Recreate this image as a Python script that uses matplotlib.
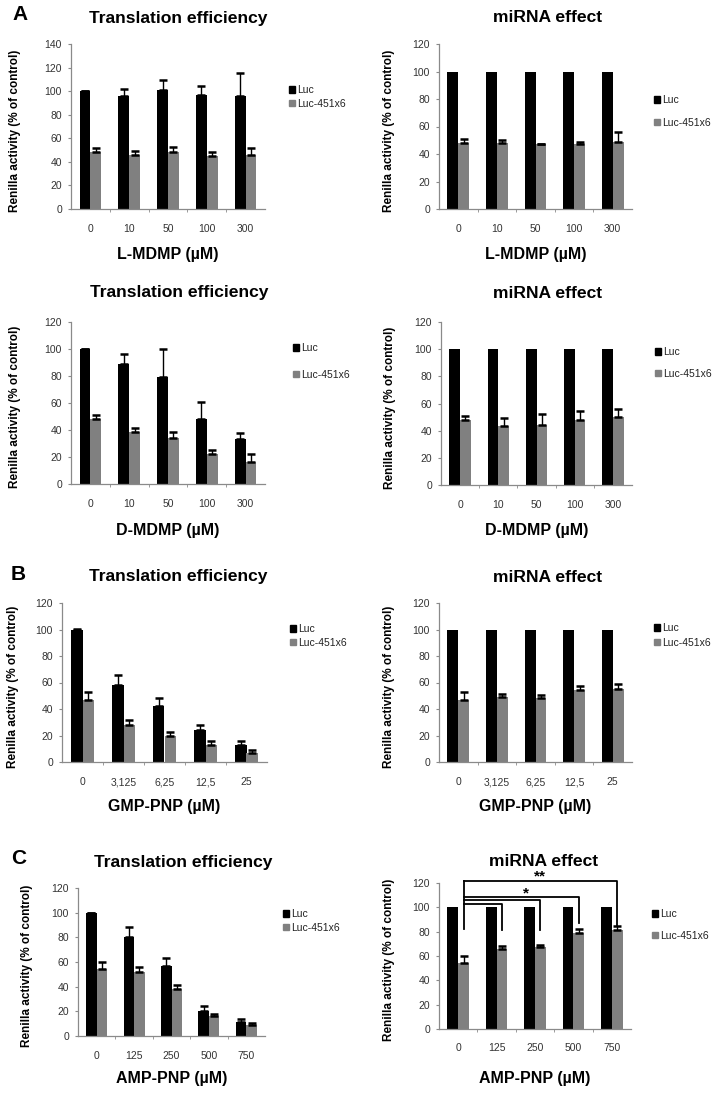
import numpy as np
import matplotlib
matplotlib.use('Agg')
import matplotlib.pyplot as plt
from matplotlib.patches import Patch

plt.rcParams['font.family'] = ['Liberation Sans', 'DejaVu Sans']

# x categories
conc_mdmp = ['0', '10', '50', '100', '300']
conc_gmp = ['0', '3,125', '6,25', '12,5', '25']
conc_amp = ['0', '125', '250', '500', '750']

# L-MDMP
te_lmdmp_luc = [100, 96, 101, 97, 96]
te_lmdmp_luc_err = [0.5, 6, 8.5, 7, 19]
te_lmdmp_mir = [48, 46, 48, 45, 46]
te_lmdmp_mir_err = [3.5, 3.5, 4.5, 3, 6]
mi_lmdmp_luc = [100, 100, 100, 100, 100]
mi_lmdmp_mir = [48, 48, 47, 47, 49]
mi_lmdmp_mir_err = [3, 2, 0.5, 2, 7]

# D-MDMP
te_dmdmp_luc = [100, 89, 79, 48.5, 33]
te_dmdmp_luc_err = [0, 7.5, 21, 12, 4.7]
te_dmdmp_mir = [48, 38.5, 34, 22, 16]
te_dmdmp_mir_err = [3, 2.7, 4.5, 3.2, 6]
mi_dmdmp_luc = [100, 100, 100, 100, 100]
mi_dmdmp_mir = [48, 43.5, 44.5, 47.5, 50]
mi_dmdmp_mir_err = [3, 6, 7.5, 7, 6]

# GMP-PNP
te_gmp_luc = [100, 58, 42, 24, 13]
te_gmp_luc_err = [0.5, 8, 6, 4, 3]
te_gmp_mir = [47, 28, 20, 13, 7]
te_gmp_mir_err = [6, 4, 3, 2.5, 2]
mi_gmp_luc = [100, 100, 100, 100, 100]
mi_gmp_mir = [47, 49, 48, 54, 55]
mi_gmp_mir_err = [6, 2, 2.5, 3.5, 3.5]

# AMP-PNP
te_amp_luc = [100, 80, 57, 20, 11]
te_amp_luc_err = [0, 8, 6, 4, 3]
te_amp_mir = [54, 52, 38, 16, 9]
te_amp_mir_err = [6, 4, 3, 2, 1.5]
mi_amp_luc = [100, 100, 100, 100, 100]
mi_amp_mir = [54, 66, 67, 79, 81]
mi_amp_mir_err = [6, 2, 2, 3, 4]

# significance brackets (AMP-PNP miRNA effect), from group 0 to groups 1..4
sig_targets = [1, 2, 3, 4]
sig_heights = [103, 105.8, 108.5, 122]
sig_drops = [81, 81, 87, 85]

W, H = 725, 1101
fig = plt.figure(figsize=(W / 100, H / 100), dpi=100)
AX_COL = '#8a8a8a'
BW = 0.28


def fx(px):
    return px / W


def fy(py):
    return 1 - py / H


def panel(rect, cats, luc, luc_err, mir, mir_err, ymax, title, title_xy,
          xlabel, xlabel_y, ylabel_x, leg_xy, leg_space, tick_pad=11):
    l, t, r, b = rect
    ax = fig.add_axes([fx(l), fy(b), fx(r - l), (b - t) / H])
    x = np.arange(len(cats))
    ax.bar(x - BW / 2, luc, BW, color='black', label='Luc', zorder=2)
    ax.bar(x + BW / 2, mir, BW, color='#808080', label='Luc-451x6', zorder=2)
    if luc_err is not None:
        ax.errorbar(x - BW / 2, luc, yerr=[np.zeros(len(x)), luc_err], fmt='none',
                    ecolor='black', elinewidth=1, capsize=2.7, capthick=1.8, zorder=3)
    ax.errorbar(x + BW / 2, mir, yerr=[np.zeros(len(x)), mir_err], fmt='none',
                ecolor='black', elinewidth=1, capsize=2.7, capthick=1.8, zorder=3)
    ax.set_xlim(-0.5, len(cats) - 0.5)
    ax.set_ylim(0, ymax)
    ax.set_yticks(np.arange(0, ymax + 1, 20))
    ax.set_xticks(x)
    ax.set_xticklabels(cats)
    ax.set_xticks(np.arange(0.5, len(cats) - 0.5, 1), minor=True)
    ax.tick_params(axis='x', which='major', length=0, pad=tick_pad, labelsize=7.5, labelcolor='#333333')
    ax.tick_params(axis='x', which='minor', length=2.5, color=AX_COL, direction='out')
    ax.tick_params(axis='y', length=2.5, color=AX_COL, pad=4, labelsize=7.5, labelcolor='#333333')
    for s in ['top', 'right']:
        ax.spines[s].set_visible(False)
    for s in ['left', 'bottom']:
        ax.spines[s].set_color(AX_COL)
        ax.spines[s].set_linewidth(0.9)
    fig.text(fx(title_xy[0]), fy(title_xy[1]), title, ha='center', va='center',
             fontsize=12.6, fontweight='bold')
    fig.text(fx((l + r) / 2), fy(xlabel_y), xlabel, ha='center', va='center',
             fontsize=11.5, fontweight='bold')
    fig.text(fx(ylabel_x), fy((t + b) / 2 + 4), 'Renilla activity (% of control)',
             ha='center', va='center', rotation=90, fontsize=8.5, fontweight='bold')
    handles = [Patch(color='black'), Patch(color='#808080')]
    ax.legend(handles, ['Luc', 'Luc-451x6'], loc='center left',
              bbox_to_anchor=(fx(leg_xy[0]), fy(leg_xy[1])), bbox_transform=fig.transFigure,
              frameon=False, fontsize=7.5, handlelength=0.6, handleheight=0.6,
              handletextpad=0.2, borderpad=0, borderaxespad=0, labelspacing=leg_space,
              labelcolor='#222222')
    return ax


panel((71, 44, 265, 209), conc_mdmp, te_lmdmp_luc, te_lmdmp_luc_err, te_lmdmp_mir,
      te_lmdmp_mir_err, 140, 'Translation efficiency', (178, 18), 'L-MDMP (µM)', 255, 15,
      (289, 97), 0.3)
panel((439, 44, 632, 209), conc_mdmp, mi_lmdmp_luc, None, mi_lmdmp_mir,
      mi_lmdmp_mir_err, 120, 'miRNA effect', (548, 18), 'L-MDMP (µM)', 255, 389,
      (654, 111.5), 1.2)
panel((71, 322, 265, 484), conc_mdmp, te_dmdmp_luc, te_dmdmp_luc_err, te_dmdmp_mir,
      te_dmdmp_mir_err, 120, 'Translation efficiency', (179, 293), 'D-MDMP (µM)', 530, 15,
      (293, 361.5), 1.6)
panel((441, 322, 632, 485), conc_mdmp, mi_dmdmp_luc, None, mi_dmdmp_mir,
      mi_dmdmp_mir_err, 120, 'miRNA effect', (548, 293), 'D-MDMP (µM)', 530, 390,
      (655, 363), 1.1)
panel((62, 603, 267, 762), conc_gmp, te_gmp_luc, te_gmp_luc_err, te_gmp_mir,
      te_gmp_mir_err, 120, 'Translation efficiency', (178, 577), 'GMP-PNP (µM)', 807, 13,
      (290, 636), 0.3)
panel((439, 603, 632, 762), conc_gmp, mi_gmp_luc, None, mi_gmp_mir,
      mi_gmp_mir_err, 120, 'miRNA effect', (548, 577), 'GMP-PNP (µM)', 807, 389,
      (654, 635.5), 0.4)
panel((78, 888, 265, 1036), conc_amp, te_amp_luc, te_amp_luc_err, te_amp_mir,
      te_amp_mir_err, 120, 'Translation efficiency', (183, 862), 'AMP-PNP (µM)', 1078, 27,
      (283, 921), 0.3)
ax8 = panel((439, 883, 631, 1029), conc_amp, mi_amp_luc, None, mi_amp_mir,
            mi_amp_mir_err, 120, 'miRNA effect', (544, 862), 'AMP-PNP (µM)', 1078, 389,
            (652, 925), 1.1, tick_pad=10)

# significance brackets
x0 = BW / 2
ax8.plot([x0, x0], [82, max(sig_heights)], color='black', lw=1.3, clip_on=False, zorder=4)
for tgt, hgt, drop in zip(sig_targets, sig_heights, sig_drops):
    xt = tgt + BW / 2
    ax8.plot([x0, xt, xt], [hgt, hgt, drop], color='black', lw=1.3, clip_on=False, zorder=4)
ax8.text(1.76, 111.5, '*', ha='center', va='center', fontsize=11, fontweight='bold')
ax8.text(2.13, 125, '**', ha='center', va='center', fontsize=11, fontweight='bold')

# panel letters
for letter, (px, py) in zip(['A', 'B', 'C'], [(20, 15), (18, 574), (19, 858)]):
    fig.text(fx(px), fy(py), letter, ha='center', va='center', fontsize=15, fontweight='bold')

fig.savefig('out.png', dpi=100)
